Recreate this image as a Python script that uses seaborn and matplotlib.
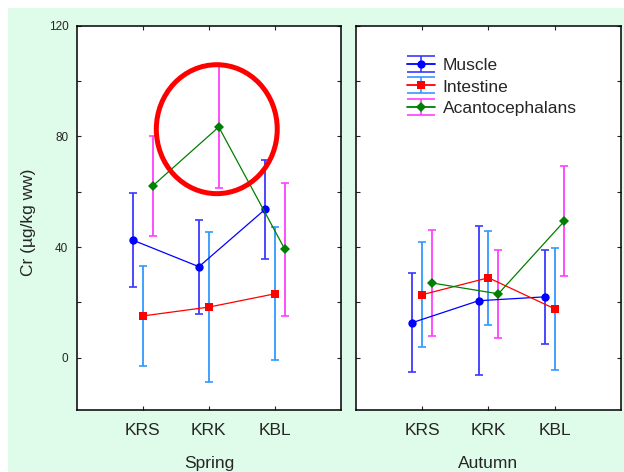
import numpy as np
import pandas as pd
import seaborn as sns
import matplotlib
matplotlib.use("Agg")
import matplotlib.pyplot as plt
from matplotlib.patches import Ellipse, Rectangle
from matplotlib.path import Path
from matplotlib.lines import Line2D
from matplotlib.legend_handler import HandlerTuple

# ---- data ----
sites = ["KRS", "KRK", "KBL"]
seasons = ["Spring", "Autumn"]
tissues = ["Muscle", "Intestine", "Acantocephalans"]

spring_muscle = [42.5, 32.9, 53.6]
spring_muscle_err = [17.0, 17.0, 18.0]
spring_intestine = [15.1, 18.3, 23.1]
spring_intestine_err = [18.0, 27.0, 24.0]
spring_acanth = [62.1, 83.4, 39.2]
spring_acanth_err = [18.0, 22.0, 24.0]

autumn_muscle = [12.7, 20.6, 22.0]
autumn_muscle_err = [17.8, 27.0, 17.0]
autumn_intestine = [22.8, 28.9, 17.7]
autumn_intestine_err = [19.0, 17.0, 22.0]
autumn_acanth = [27.0, 23.1, 49.4]
autumn_acanth_err = [19.0, 16.0, 20.0]

y_ticks = [0, 20, 40, 60, 80, 100, 120]
y_ticklabels = ["0", "", "40", "", "80", "", "120"]

# ---- styles ----
line_colors = {"Muscle": "#0000ff", "Intestine": "#ff0000", "Acantocephalans": "#008000"}
err_colors = {"Muscle": "#3a3aff", "Intestine": "#3399ff", "Acantocephalans": "#ff40ff"}
markers = {"Muscle": "o", "Intestine": "s", "Acantocephalans": "D"}
msizes = {"Muscle": 6, "Intestine": 6, "Acantocephalans": 4.8}
offsets = {"Muscle": -0.15, "Intestine": 0.0, "Acantocephalans": 0.15}

rows = []
for season, vals in zip(seasons, [
        [(spring_muscle, spring_muscle_err), (spring_intestine, spring_intestine_err), (spring_acanth, spring_acanth_err)],
        [(autumn_muscle, autumn_muscle_err), (autumn_intestine, autumn_intestine_err), (autumn_acanth, autumn_acanth_err)]]):
    for tissue, (m, e) in zip(tissues, vals):
        for i, s in enumerate(sites):
            rows.append(dict(season=season, tissue=tissue, site=s, idx=i, mean=m[i], err=e[i]))
df = pd.DataFrame(rows)
df["xpos"] = df["idx"] + df["tissue"].map(offsets)

sns.set_style("white")
plt.rcParams["font.family"] = ["Liberation Sans", "DejaVu Sans"]

W, H = 624, 472
fig = plt.figure(figsize=(W / 100, H / 100), dpi=100, facecolor="white")
# mint background panel
fig.patches.append(Rectangle((8 / W, 0), 1 - 8 / W, 1 - 8 / H, transform=fig.transFigure,
                             facecolor="#dffbe9", edgecolor="none", zorder=-10))

ax_l = fig.add_axes([76.7 / W, 1 - 410.3 / H, 264.3 / W, 384.6 / H])
ax_r = fig.add_axes([356.3 / W, 1 - 410.3 / H, 264.3 / W, 384.6 / H])

for ax, season in zip([ax_l, ax_r], seasons):
    sub = df[df.season == season]
    for tissue in tissues:
        d = sub[sub.tissue == tissue]
        ax.errorbar(d["xpos"], d["mean"], yerr=d["err"], fmt="none",
                    ecolor=err_colors[tissue], elinewidth=1.3, capsize=2.6, capthick=1.2, zorder=2)
    for tissue in tissues:
        d = sub[sub.tissue == tissue]
        sns.lineplot(data=d, x="xpos", y="mean", ax=ax, color=line_colors[tissue],
                     marker=markers[tissue], markersize=msizes[tissue], markeredgewidth=0,
                     linewidth=0.9, zorder=3, legend=False, sort=False)
    ax.set_xlim(-1, 3)
    ax.set_ylim(-19, 120)
    ax.set_xticks(range(len(sites)))
    ax.set_xticklabels(sites, fontsize=12.5)
    ax.set_yticks(y_ticks)
    ax.set_ylabel("")
    ax.set_xlabel(season, fontsize=12.5, labelpad=13)
    ax.tick_params(axis="both", direction="in", length=3, width=0.8, color="#222222",
                   top=True, right=True, left=True, bottom=True)
    ax.tick_params(axis="x", pad=9)
    ax.set_facecolor("white")
    for sp in ax.spines.values():
        sp.set_visible(True)
        sp.set_color("black")
        sp.set_linewidth(1.1)

ax_l.set_yticklabels(y_ticklabels, fontsize=8.5)
ax_l.tick_params(axis="y", pad=6)
ax_r.set_yticklabels([])
fig.text(28 / W, 1 - 222 / H, "Cr (µg/kg ww)", rotation=90, ha="center", va="center", fontsize=12.5)

# highlight ellipse
ax_l.add_patch(Ellipse((1.12, 82.6), 1.83, 46.6, fill=False, edgecolor="#ff0000", linewidth=3.6, zorder=5))

# legend with errorbar-style handles
ibar = Path([(-1, 0.6), (1, 0.6), (0, 0.6), (0, -0.6), (-1, -0.6), (1, -0.6)],
            [Path.MOVETO, Path.LINETO, Path.MOVETO, Path.LINETO, Path.MOVETO, Path.LINETO])
handles = []
for tissue in tissues:
    bar = Line2D([], [], linestyle="none", marker=ibar, markersize=20, markerfacecolor="none",
                 markeredgecolor=err_colors[tissue], markeredgewidth=1.2)
    ln = Line2D([], [], color=line_colors[tissue], marker=markers[tissue], markersize=msizes[tissue],
                markeredgewidth=0, linewidth=1.3)
    handles.append((bar, ln))
ax_r.legend(handles, tissues, handler_map={tuple: HandlerTuple(ndivide=1, pad=0)}, loc="upper left",
            bbox_to_anchor=(0.166, 0.935), frameon=False, fontsize=12.5, handlelength=1.6,
            handletextpad=0.45, labelspacing=0.38, borderaxespad=0)

fig.savefig("out.png", dpi=100, facecolor=fig.get_facecolor())
